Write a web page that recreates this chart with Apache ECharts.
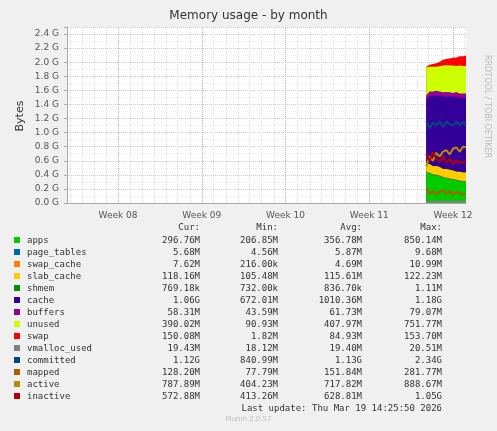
<!DOCTYPE html><html><head><meta charset="utf-8">
<script src="https://cdn.jsdelivr.net/npm/echarts@6/dist/echarts.min.js"></script>
<style>html,body{margin:0;background:#f0f0f0}#c{width:497px;height:431px}</style></head><body><div id="c"></div>
<script>
const xs=[11.68,11.72,11.76,11.80,11.84,11.88,11.92,11.96,12.00,12.04,12.08,12.12,12.155];
const apps=[0.43,0.42,0.40,0.39,0.38,0.36,0.35,0.34,0.33,0.32,0.31,0.30,0.30];
const page_tables=[0.006,0.006,0.006,0.006,0.006,0.006,0.006,0.006,0.006,0.006,0.006,0.006,0.006];
const swap_cache=[0.01,0.008,0.007,0.008,0.007,0.007,0.008,0.007,0.007,0.008,0.007,0.008,0.008];
const slab_cache=[0.11,0.12,0.11,0.12,0.12,0.11,0.12,0.12,0.12,0.11,0.12,0.12,0.12];
const shmem=[0.001,0.001,0.001,0.001,0.001,0.001,0.001,0.001,0.001,0.001,0.001,0.001,0.001];
const cache=[0.92,0.96,1.00,1.00,1.02,1.03,1.02,1.04,1.05,1.06,1.05,1.06,1.06];
const buffers=[0.05,0.07,0.06,0.07,0.05,0.06,0.07,0.06,0.05,0.07,0.06,0.06,0.06];
const unused=[0.40,0.35,0.35,0.34,0.36,0.38,0.38,0.38,0.39,0.37,0.40,0.39,0.39];
const swap=[0.01,0.03,0.04,0.05,0.06,0.08,0.09,0.10,0.11,0.12,0.13,0.14,0.15];
const vmalloc_used=[0.019,0.019,0.019,0.019,0.019,0.019,0.019,0.019,0.019,0.019,0.019,0.019,0.019];
const committed=[1.16,1.06,1.14,1.10,1.16,1.08,1.16,1.12,1.10,1.16,1.10,1.15,1.12];
const mapped=[0.20,0.13,0.17,0.12,0.16,0.18,0.13,0.17,0.12,0.16,0.14,0.12,0.13];
const active=[0.52,0.66,0.60,0.71,0.66,0.73,0.75,0.69,0.77,0.79,0.73,0.80,0.79];
const inactive=[0.70,0.60,0.72,0.63,0.58,0.67,0.57,0.63,0.55,0.61,0.57,0.58,0.57];
const weekLabels=['Week 08','Week 09','Week 10','Week 11','Week 12'];
const yTicks=[0,0.2,0.4,0.6,0.8,1.0,1.2,1.4,1.6,1.8,2.0,2.2,2.4];
const rows=[
['apps','#00CC00','296.76M','206.85M','356.78M','850.14M'],
['page_tables','#0066B3','5.68M','4.56M','5.87M','9.68M'],
['swap_cache','#FF8000','7.62M','216.00k','4.69M','10.99M'],
['slab_cache','#FFCC00','118.16M','105.48M','115.61M','122.23M'],
['shmem','#008F00','769.18k','732.00k','836.70k','1.11M'],
['cache','#330099','1.06G','672.01M','1010.36M','1.18G'],
['buffers','#990099','58.31M','43.59M','61.73M','79.07M'],
['unused','#CCFF00','390.02M','90.93M','407.97M','751.77M'],
['swap','#FF0000','150.08M','1.82M','84.93M','153.70M'],
['vmalloc_used','#808080','19.43M','18.12M','19.40M','20.51M'],
['committed','#00487D','1.12G','840.99M','1.13G','2.34G'],
['mapped','#B35A00','128.20M','77.79M','151.84M','281.77M'],
['active','#B38F00','787.89M','404.23M','717.82M','888.67M'],
['inactive','#B30000','572.88M','413.26M','628.81M','1.05G']];
const stackNames=['apps','page_tables','swap_cache','slab_cache','shmem','cache','buffers','unused','swap'];
const lineNames=['vmalloc_used','committed','mapped','active','inactive'];
const D={apps,page_tables,swap_cache,slab_cache,shmem,cache,buffers,unused,swap,vmalloc_used,committed,mapped,active,inactive};
const col=Object.fromEntries(rows.map(r=>[r[0],r[1]]));
const dayLines=[];for(let w=7;w<=12;w++)for(let d=1;d<7;d++){const v=w+d/7;if(v>7.39&&v<12.155)dayLines.push({xAxis:v});}
const series=[];
const cum=xs.map(()=>0);
const stacked=stackNames.map(n=>{const arr=xs.map((x,i)=>{cum[i]+=D[n][i];return cum[i];});return [n,arr];});
stacked.forEach(([n,arr])=>series.push({name:n,type:'line',symbol:'none',zlevel:1,lineStyle:{width:0},areaStyle:{color:col[n],opacity:1,origin:'start'},color:col[n],data:xs.map((x,i)=>[x,arr[i]])}));
series.reverse();
lineNames.forEach(n=>series.push({name:n,type:'line',symbol:'none',zlevel:1,z:5,lineStyle:{width:2,color:col[n]},data:xs.map((x,i)=>[x,D[n][i]])}));
series.push({type:'line',data:[],markLine:{silent:true,symbol:'none',label:{show:false},lineStyle:{color:'#ddd',type:'dotted',width:1},data:dayLines}});
series.push({type:'line',data:[],markLine:{silent:true,symbol:'none',label:{show:false},lineStyle:{color:'#e8a0a0',type:'dotted',width:1},data:[8,9,10,11,12].map(v=>({xAxis:v}))}});
const F='DejaVu Sans Mono';
const g=[];
g.push({type:'text',left:'center',top:10,style:{text:'Memory usage - by month',font:'12px DejaVu Sans',fill:'#333'}});
g.push({type:'text',x:20,y:116,rotation:Math.PI/2,style:{text:'Bytes',font:'11px DejaVu Sans',fill:'#333',align:'center',verticalAlign:'middle'}});
g.push({type:'text',x:487,y:55,rotation:-Math.PI/2,style:{text:'RRDTOOL / TOBI OETIKER',font:'8px DejaVu Sans',fill:'#bbb',verticalAlign:'middle'}});
const hdr=[['Cur:',200],['Min:',278],['Avg:',362],['Max:',442]];
hdr.forEach(h=>g.push({type:'text',x:h[1],y:223,style:{text:h[0],font:'9px '+F,fill:'#333',align:'right'}}));
rows.forEach((r,i)=>{const y=236+i*12;
g.push({type:'rect',shape:{x:14,y:y+1,width:6,height:6},style:{fill:r[1]}});
g.push({type:'text',x:27,y:y,style:{text:r[0],font:'9px '+F,fill:'#333'}});
[r[2],r[3],r[4],r[5]].forEach((v,k)=>g.push({type:'text',x:hdr[k][1],y:y,style:{text:v,font:'9px '+F,fill:'#333',align:'right'}}));});
g.push({type:'text',x:442,y:404,style:{text:'Last update: Thu Mar 19 14:25:50 2026',font:'9px '+F,fill:'#333',align:'right'}});
g.push({type:'text',left:'center',top:416,style:{text:'Munin 2.0.57',font:'7px DejaVu Sans',fill:'#bbb'}});
const chart=echarts.init(document.getElementById('c'));
chart.setOption({backgroundColor:'#f0f0f0',animation:false,
grid:{left:67,right:31,top:27,bottom:228,backgroundColor:'#fff',show:true,borderWidth:0},
xAxis:{type:'value',min:7.39,max:12.155,axisLine:{lineStyle:{color:'#aaa'}},axisTick:{show:false},splitLine:{show:false},
axisLabel:{customValues:[8,9,10,11,12],formatter:v=>weekLabels[Math.round(v)-8],color:'#555',fontFamily:'DejaVu Sans',fontSize:9}},
yAxis:{type:'value',min:0,max:2.5,interval:0.2,axisLine:{show:true,lineStyle:{color:'#aaa'}},axisTick:{show:true,length:3,lineStyle:{color:'#aaa'}},
axisLabel:{color:'#555',fontFamily:'DejaVu Sans',fontSize:9,formatter:v=>yTicks.includes(+v.toFixed(1))?v.toFixed(1)+' G':''},
splitLine:{lineStyle:{color:'#ccc',type:'dotted'}},minorTick:{show:false,splitNumber:2},minorSplitLine:{show:true,lineStyle:{color:'#eee',type:'dotted'}}},
series,graphic:g});
</script></body></html>
